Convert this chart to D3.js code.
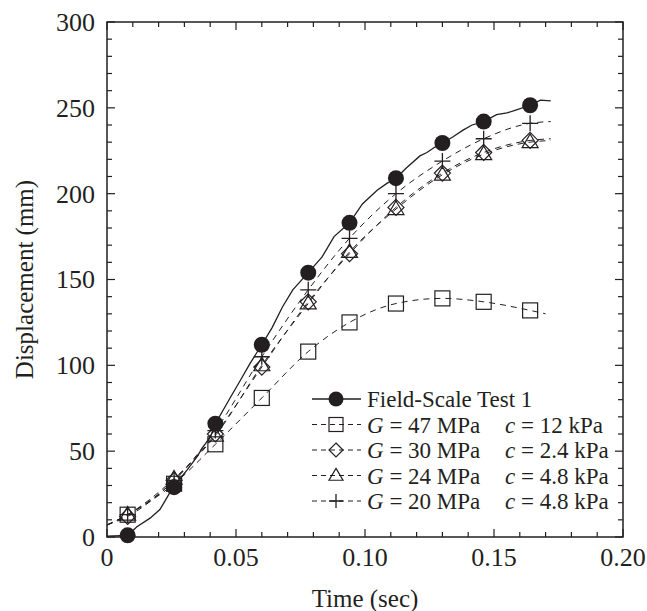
<!DOCTYPE html>
<html>
<head>
<meta charset="utf-8">
<script src="https://cdn.jsdelivr.net/npm/d3@7"></script>
<style>
  body { margin: 0; background: #fff; }
  svg text { font-family: "Liberation Serif", "Times New Roman", serif; fill: #231f20; }
</style>
</head>
<body>
<div id="chart"></div>
<script>
// marker times (sec) shared by all series
const markerTime = [0.008, 0.026, 0.042, 0.060, 0.078, 0.094, 0.112, 0.130, 0.146, 0.164];

// measured displacement (mm) at marker times
const fieldMarkers = [1, 29, 66, 112, 154, 183, 209, 229.5, 242, 251.5];

// measured trace (continuous solid line)
const fieldLineTime = [0, 0.008, 0.0116, 0.0167, 0.0205, 0.0225, 0.0256, 0.031, 0.035, 0.037, 0.040, 0.042,
  0.0477, 0.0516, 0.0554, 0.060, 0.064, 0.068, 0.072, 0.078, 0.0833, 0.088, 0.094, 0.099, 0.1047,
  0.1085, 0.112, 0.116, 0.1213, 0.124, 0.127, 0.130, 0.134, 0.138, 0.1415, 0.146, 0.151, 0.155,
  0.159, 0.164, 0.168, 0.172];
const fieldLineDisp = [0.5, 1, 6, 11, 16, 21, 29, 39, 47, 52, 58, 66,
  81, 91, 101, 112, 122, 134, 144, 154, 163, 175, 183, 194, 202,
  206, 209, 215, 222, 224, 227, 229.5, 233, 237, 240, 242, 246, 247,
  249, 251.5, 254.5, 254];

// simulations (mm) at marker times, plus start / end of their dashed lines
const g47 = [13, 31, 54, 81, 108, 125, 136, 139, 137, 132];
const g30 = [12, 33, 60, 99, 137, 165, 192, 212, 224, 231];
const g24 = [13, 34, 59, 100, 136, 166, 191, 211, 223, 230];
const g20 = [13, 33, 62, 105, 144, 174, 200, 219, 232, 241];
const simStart = [7, 7, 7, 7];          // value at t = 0
const simEndTime = [0.170, 0.172, 0.172, 0.172];
const simEnd = [130, 232, 231, 242];

const legendG = ["47", "30", "24", "20"];
const legendC = ["12", "2.4", "4.8", "4.8"];

const xTicks = [0, 0.05, 0.10, 0.15, 0.20];
const yTicks = [0, 50, 100, 150, 200, 250, 300];

const ink = "#231f20";

let dimensions = {
  width: 647,
  height: 611,
  margin: { top: 22, right: 24, bottom: 74, left: 107 },
};
dimensions.boundedWidth = dimensions.width - dimensions.margin.left - dimensions.margin.right;
dimensions.boundedHeight = dimensions.height - dimensions.margin.top - dimensions.margin.bottom;

const wrapper = d3.select("#chart").append("svg")
  .attr("width", dimensions.width)
  .attr("height", dimensions.height);

const bounds = wrapper.append("g")
  .attr("transform", `translate(${dimensions.margin.left},${dimensions.margin.top})`);

const xScale = d3.scaleLinear().domain([0, 0.2]).range([0, dimensions.boundedWidth]);
const yScale = d3.scaleLinear().domain([0, 300]).range([dimensions.boundedHeight, 0]);

// ticks: minor every 0.01 / 10 mm, inward, mirrored on all sides
const xMinor = d3.range(0, 21).map((i) => i / 100);
const yMinor = d3.range(0, 31).map((i) => i * 10);
const isMajorX = (v) => Math.abs(v * 20 - Math.round(v * 20)) < 1e-6;
const isMajorY = (v) => v % 50 === 0;

const tickG = bounds.append("g").attr("stroke", ink).attr("stroke-width", 1.2);
xMinor.forEach((v) => {
  const len = isMajorX(v) ? 8 : 5;
  const x = xScale(v);
  tickG.append("line").attr("x1", x).attr("x2", x)
    .attr("y1", dimensions.boundedHeight).attr("y2", dimensions.boundedHeight - len);
  tickG.append("line").attr("x1", x).attr("x2", x).attr("y1", 0).attr("y2", len);
});
yMinor.forEach((v) => {
  const len = isMajorY(v) ? 8 : 5;
  const y = yScale(v);
  tickG.append("line").attr("x1", 0).attr("x2", len).attr("y1", y).attr("y2", y);
  tickG.append("line").attr("x1", dimensions.boundedWidth).attr("x2", dimensions.boundedWidth - len)
    .attr("y1", y).attr("y2", y);
});

bounds.append("rect")
  .attr("width", dimensions.boundedWidth)
  .attr("height", dimensions.boundedHeight)
  .attr("fill", "none")
  .attr("stroke", ink)
  .attr("stroke-width", 1.5);

// tick labels
const xFmt = (v) => (v === 0 ? "0" : v.toFixed(2));
bounds.append("g").selectAll("text").data(xTicks).join("text")
  .attr("x", (d) => xScale(d))
  .attr("y", dimensions.boundedHeight + 29)
  .attr("text-anchor", "middle")
  .style("font-size", "26px")
  .text(xFmt);

bounds.append("g").selectAll("text").data(yTicks).join("text")
  .attr("x", -12)
  .attr("y", (d) => yScale(d))
  .attr("dy", "0.34em")
  .attr("text-anchor", "end")
  .style("font-size", "26px")
  .text((d) => d);

// axis labels
bounds.append("text")
  .attr("x", dimensions.boundedWidth / 2)
  .attr("y", dimensions.boundedHeight + 70)
  .attr("text-anchor", "middle")
  .style("font-size", "25px")
  .text("Time (sec)");

bounds.append("text")
  .attr("transform", `translate(${33 - dimensions.margin.left},${dimensions.boundedHeight / 2}) rotate(-90)`)
  .attr("text-anchor", "middle")
  .style("font-size", "25px")
  .text("Displacement (mm)");

// marker shapes
function drawMarker(g, type, x, y, s) {
  if (type === "circle") {
    g.append("circle").attr("cx", x).attr("cy", y).attr("r", s).attr("fill", ink);
  } else if (type === "square") {
    g.append("rect").attr("x", x - s).attr("y", y - s).attr("width", 2 * s).attr("height", 2 * s)
      .attr("fill", "none").attr("stroke", ink).attr("stroke-width", 1.2);
  } else if (type === "diamond") {
    g.append("path").attr("d", `M${x},${y - s}L${x + s},${y}L${x},${y + s}L${x - s},${y}Z`)
      .attr("fill", "none").attr("stroke", ink).attr("stroke-width", 1.2);
  } else if (type === "triangle") {
    const h = s * 1.7;
    g.append("path").attr("d", `M${x},${y - h * 0.6}L${x + s},${y + h * 0.4}L${x - s},${y + h * 0.4}Z`)
      .attr("fill", "none").attr("stroke", ink).attr("stroke-width", 1.2);
  } else if (type === "plus") {
    g.append("path").attr("d", `M${x - s},${y}H${x + s}M${x},${y - s}V${y + s}`)
      .attr("fill", "none").attr("stroke", ink).attr("stroke-width", 1.3);
  }
}

const lineGen = d3.line()
  .x((d) => xScale(d[0]))
  .y((d) => yScale(d[1]))
  .curve(d3.curveMonotoneX);

// simulation dashed lines
const sims = [
  { vals: g47, marker: "square", size: 7.5 },
  { vals: g30, marker: "diamond", size: 8 },
  { vals: g24, marker: "triangle", size: 8 },
  { vals: g20, marker: "plus", size: 8 },
];

const simLines = bounds.append("g");
sims.forEach((s, i) => {
  const pts = [[0, simStart[i]]]
    .concat(markerTime.map((t, j) => [t, s.vals[j]]))
    .concat([[simEndTime[i], simEnd[i]]]);
  simLines.append("path")
    .attr("d", lineGen(pts))
    .attr("fill", "none")
    .attr("stroke", ink)
    .attr("stroke-width", 1)
    .attr("stroke-dasharray", "6,5");
});

// measured line
bounds.append("path")
  .attr("d", d3.line().x((d) => xScale(d[0])).y((d) => yScale(d[1]))(fieldLineTime.map((t, i) => [t, fieldLineDisp[i]])))
  .attr("fill", "none")
  .attr("stroke", ink)
  .attr("stroke-width", 1.3);

// markers
const markerG = bounds.append("g");
sims.forEach((s) => {
  markerTime.forEach((t, j) => drawMarker(markerG, s.marker, xScale(t), yScale(s.vals[j]), s.size));
});
markerTime.forEach((t, j) => drawMarker(markerG, "circle", xScale(t), yScale(fieldMarkers[j]), 8));

// legend
const legend = bounds.append("g")
  .attr("transform", `translate(${312 - dimensions.margin.left},${399 - dimensions.margin.top})`);
const rowH = 25.5;
const legendRows = [{ marker: "circle", size: 7.5 }].concat(sims.map((s) => ({ marker: s.marker, size: 7 })));

legendRows.forEach((r, i) => {
  const y = i * rowH;
  legend.append("line")
    .attr("x1", 0).attr("x2", 49).attr("y1", y).attr("y2", y)
    .attr("stroke", ink).attr("stroke-width", i === 0 ? 1.3 : 1)
    .attr("stroke-dasharray", i === 0 ? null : "5,4");
  drawMarker(legend, r.marker, 24, y, r.size);
  if (i === 0) {
    legend.append("text").attr("x", 55).attr("y", y + 8)
      .style("font-size", "23px").text("Field-Scale Test 1");
  } else {
    const t1 = legend.append("text").attr("x", 55).attr("y", y + 8).style("font-size", "23px");
    t1.append("tspan").style("font-style", "italic").text("G");
    t1.append("tspan").text(` = ${legendG[i - 1]} MPa`);
    const t2 = legend.append("text").attr("x", 193).attr("y", y + 8).style("font-size", "23px");
    t2.append("tspan").style("font-style", "italic").text("c");
    t2.append("tspan").text(` = ${legendC[i - 1]} kPa`);
  }
});
</script>
</body>
</html>
